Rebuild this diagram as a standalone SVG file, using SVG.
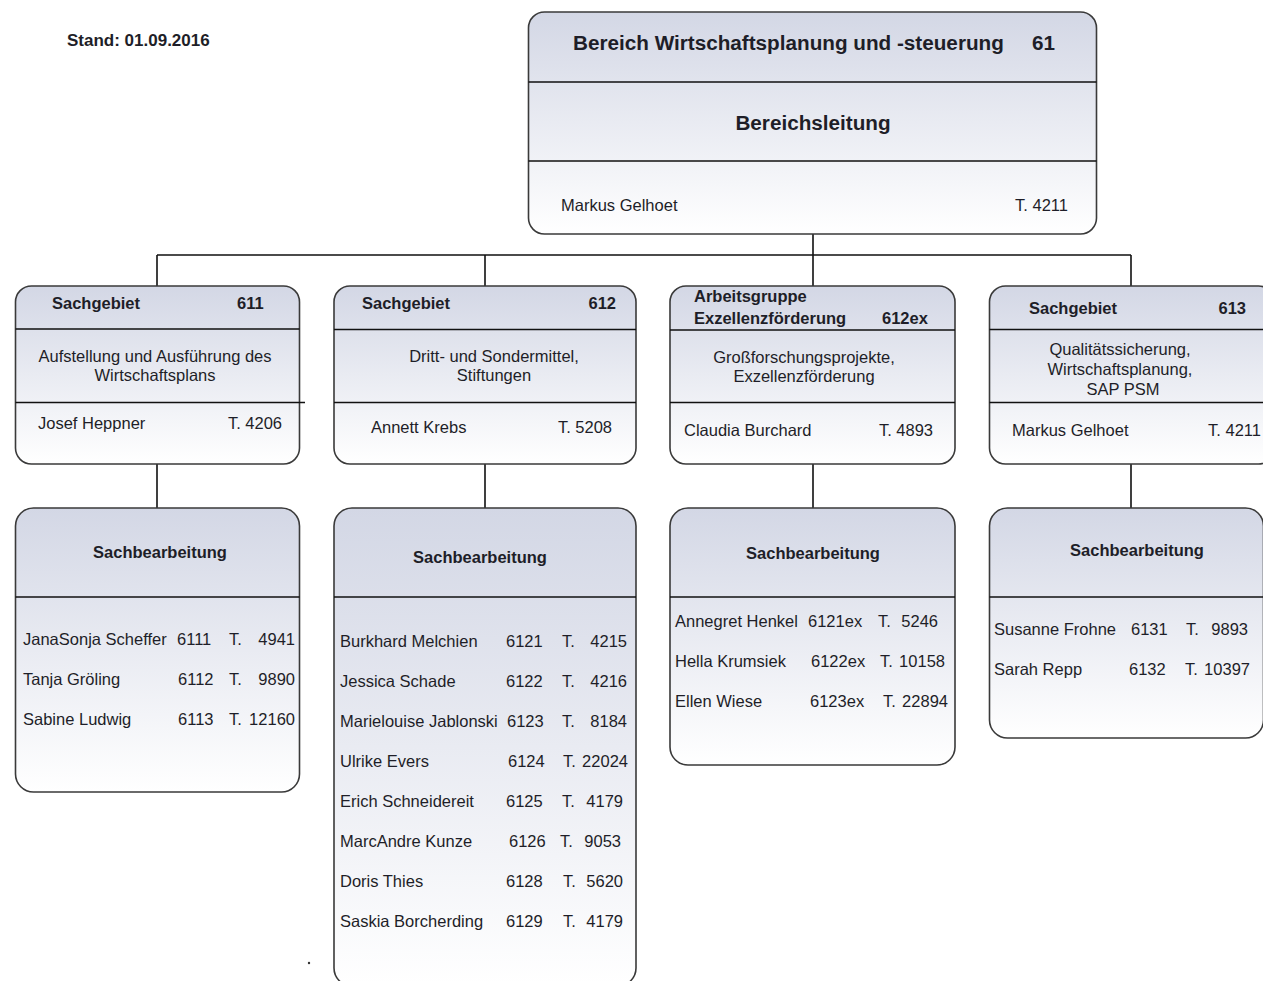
<svg xmlns="http://www.w3.org/2000/svg" width="1263" height="981" viewBox="0 0 1263 981">
<defs>
<linearGradient id="g" x1="0" y1="0" x2="0" y2="1">
<stop offset="0" stop-color="#d3d7e5"/>
<stop offset="1" stop-color="#ffffff"/>
</linearGradient>
<style>
.box{fill:url(#g);stroke:#3a3a3a;stroke-width:1.6}
.dv{stroke:#111;stroke-width:1.6;fill:none}
.conn{stroke:#111;stroke-width:1.6;fill:none}
text{font-family:"Liberation Sans",Arial,sans-serif;fill:#1e1e28;font-size:16.5px}
.b{font-weight:bold}
.big{font-size:20.7px}
.m{text-anchor:middle}
.e{text-anchor:end}
</style>
</defs>
<rect width="1263" height="981" fill="#ffffff"/>
<text x="67" y="46" class="b" style="font-size:17px">Stand: 01.09.2016</text>
<circle cx="309" cy="963" r="1.2" fill="#333"/>

<g id="connectors">
<path class="conn" d="M813 234V255M157 255H1131M157 255V287M485 255V287M813 255V287M1131 255V287"/>
<path class="conn" d="M157 464V508M485 464V508M813 464V508M1131 464V508"/>
</g>

<g id="top">
<rect class="box" x="528.5" y="12" width="568" height="222" rx="16"/>
<path class="dv" d="M528.5 82H1096.5M528.5 161H1096.5"/>
<text x="573" y="50" class="b big">Bereich Wirtschaftsplanung und -steuerung</text>
<text x="1032" y="50" class="b big">61</text>
<text x="813" y="130" class="b big m">Bereichsleitung</text>
<text x="561" y="211">Markus Gelhoet</text>
<text x="1068" y="211" class="e">T. 4211</text>
</g>

<g id="sg611">
<rect class="box" x="15.5" y="286" width="284" height="178" rx="16"/>
<path class="dv" d="M15.5 329H299.5M15.5 402.5H305"/>
<text x="52" y="309" class="b">Sachgebiet</text>
<text x="237" y="309" class="b">611</text>
<text x="155" y="362" class="m">Aufstellung und Ausführung des</text>
<text x="155" y="381" class="m">Wirtschaftsplans</text>
<text x="38" y="429">Josef Heppner</text>
<text x="282" y="429" class="e">T. 4206</text>
</g>

<g id="sg612">
<rect class="box" x="334" y="286" width="302" height="178" rx="16"/>
<path class="dv" d="M334 329.5H636M334 402.5H636"/>
<text x="362" y="309" class="b">Sachgebiet</text>
<text x="616" y="309" class="b e">612</text>
<text x="494" y="362" class="m">Dritt- und Sondermittel,</text>
<text x="494" y="381" class="m">Stiftungen</text>
<text x="371" y="433">Annett Krebs</text>
<text x="612" y="433" class="e">T. 5208</text>
</g>

<g id="ag612ex">
<rect class="box" x="670" y="286" width="285" height="178" rx="16"/>
<path class="dv" d="M670 330H955M670 402.5H955"/>
<text x="694" y="302" class="b">Arbeitsgruppe</text>
<text x="694" y="324" class="b">Exzellenzförderung</text>
<text x="882" y="324" class="b">612ex</text>
<text x="804" y="363" class="m">Großforschungsprojekte,</text>
<text x="804" y="382" class="m">Exzellenzförderung</text>
<text x="684" y="436">Claudia Burchard</text>
<text x="933" y="436" class="e">T. 4893</text>
</g>

<g id="sg613">
<rect class="box" x="989.5" y="286" width="285" height="178" rx="16"/>
<path class="dv" d="M989.5 329.5H1263M989.5 402.5H1263"/>
<text x="1029" y="314" class="b">Sachgebiet</text>
<text x="1246" y="314" class="b e">613</text>
<text x="1120" y="355" class="m">Qualitätssicherung,</text>
<text x="1120" y="375" class="m">Wirtschaftsplanung,</text>
<text x="1123" y="395" class="m">SAP PSM</text>
<text x="1012" y="436">Markus Gelhoet</text>
<text x="1261" y="436" class="e">T. 4211</text>
</g>

<g id="sb611">
<rect class="box" x="15.5" y="508" width="284" height="284" rx="18"/>
<path class="dv" d="M15.5 597H299.5"/>
<text x="160" y="558" class="b m">Sachbearbeitung</text>
<text x="23" y="645">JanaSonja Scheffer</text><text x="177" y="645">6111</text><text x="229" y="645">T.</text><text x="295" y="645" class="e">4941</text>
<text x="23" y="685">Tanja Gröling</text><text x="178" y="685">6112</text><text x="229" y="685">T.</text><text x="295" y="685" class="e">9890</text>
<text x="23" y="725">Sabine Ludwig</text><text x="178" y="725">6113</text><text x="229" y="725">T.</text><text x="295" y="725" class="e">12160</text>
</g>

<g id="sb612">
<rect class="box" x="334" y="508" width="302" height="478" rx="18"/>
<path class="dv" d="M334 597H636"/>
<text x="480" y="563" class="b m">Sachbearbeitung</text>
<text x="340" y="647">Burkhard Melchien</text><text x="506" y="647">6121</text><text x="562" y="647">T.</text><text x="627" y="647" class="e">4215</text>
<text x="340" y="687">Jessica Schade</text><text x="506" y="687">6122</text><text x="562" y="687">T.</text><text x="627" y="687" class="e">4216</text>
<text x="340" y="727">Marielouise Jablonski</text><text x="507" y="727">6123</text><text x="562" y="727">T.</text><text x="627" y="727" class="e">8184</text>
<text x="340" y="767">Ulrike Evers</text><text x="508" y="767">6124</text><text x="563" y="767">T.</text><text x="628" y="767" class="e">22024</text>
<text x="340" y="807">Erich Schneidereit</text><text x="506" y="807">6125</text><text x="562" y="807">T.</text><text x="623" y="807" class="e">4179</text>
<text x="340" y="847">MarcAndre Kunze</text><text x="509" y="847">6126</text><text x="560" y="847">T.</text><text x="621" y="847" class="e">9053</text>
<text x="340" y="887">Doris Thies</text><text x="506" y="887">6128</text><text x="563" y="887">T.</text><text x="623" y="887" class="e">5620</text>
<text x="340" y="927">Saskia Borcherding</text><text x="506" y="927">6129</text><text x="563" y="927">T.</text><text x="623" y="927" class="e">4179</text>
</g>

<g id="sb612ex">
<rect class="box" x="670" y="508" width="285" height="257" rx="18"/>
<path class="dv" d="M670 597H955"/>
<text x="813" y="559" class="b m">Sachbearbeitung</text>
<text x="675" y="627">Annegret Henkel</text><text x="808" y="627">6121ex</text><text x="878" y="627">T.</text><text x="938" y="627" class="e">5246</text>
<text x="675" y="667">Hella Krumsiek</text><text x="811" y="667">6122ex</text><text x="880" y="667">T.</text><text x="945" y="667" class="e">10158</text>
<text x="675" y="707">Ellen Wiese</text><text x="810" y="707">6123ex</text><text x="883" y="707">T.</text><text x="948" y="707" class="e">22894</text>
</g>

<g id="sb613">
<rect class="box" x="989.5" y="508" width="274" height="230" rx="18"/>
<path class="dv" d="M989.5 597H1263"/>
<text x="1137" y="556" class="b m">Sachbearbeitung</text>
<text x="994" y="635">Susanne Frohne</text><text x="1131" y="635">6131</text><text x="1186" y="635">T.</text><text x="1248" y="635" class="e">9893</text>
<text x="994" y="675">Sarah Repp</text><text x="1129" y="675">6132</text><text x="1185" y="675">T.</text><text x="1250" y="675" class="e">10397</text>
</g>
</svg>
